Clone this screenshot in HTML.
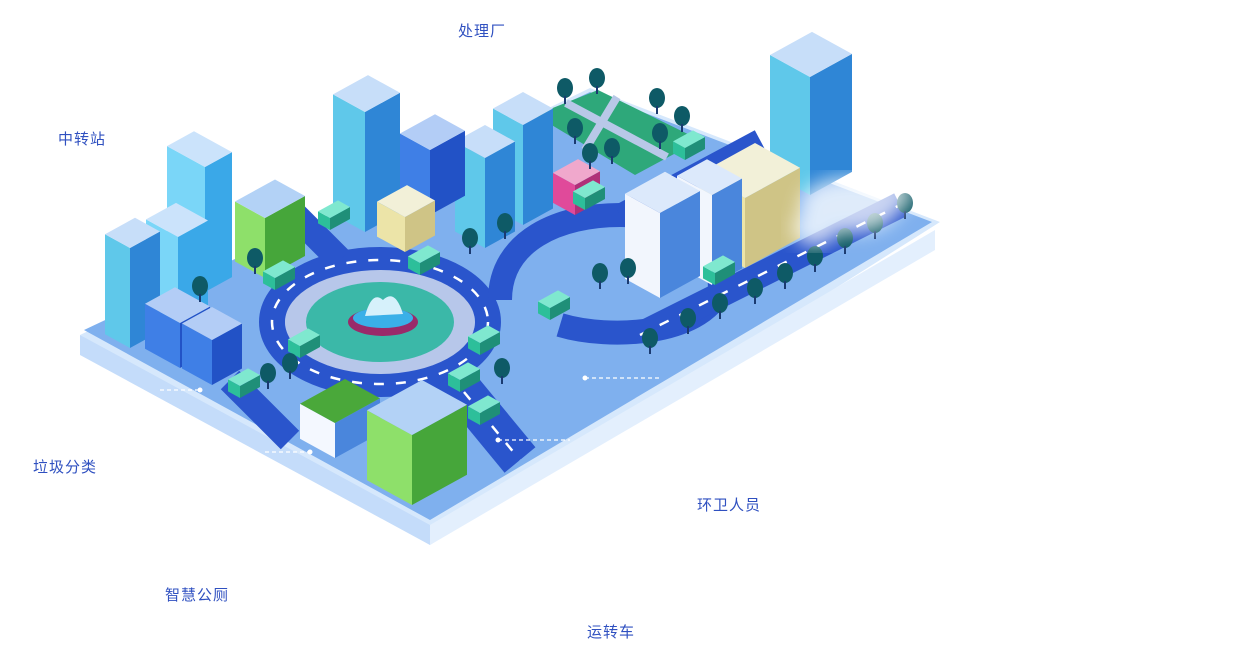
<!DOCTYPE html>
<html><head><meta charset="utf-8"><style>
html,body{margin:0;padding:0;background:#fff;width:1233px;height:654px;overflow:hidden}
.l{position:absolute;font:15px "Liberation Sans","Noto Sans CJK SC",sans-serif;color:#2f50c0;letter-spacing:1px}
svg{position:absolute;left:0;top:0}
</style></head><body>
<svg id="s" width="1233" height="654" viewBox="0 0 1233 654">
<defs><filter id="b"><feGaussianBlur stdDeviation="9"/></filter></defs>
<polygon points="80,335 590,88 940,222 430,545" fill="#d6e8fc"/>
<polygon points="80,335 430,525 430,545 80,355" fill="#c4dcfa"/>
<polygon points="430,525 935,230 935,250 430,545" fill="#e3effd"/>
<polygon points="84,330 590,92 932,222 430,520" fill="#7fb0ee"/>
<g stroke="#2a55cc" fill="none" stroke-linecap="butt">
<ellipse cx="380" cy="322" rx="108" ry="62" stroke-width="26"/>
<path d="M500,300 C500,240 560,215 620,215 C700,215 720,250 720,290 C700,335 610,340 560,325" stroke-width="24"/>
<path d="M640,335 L900,205" stroke-width="26"/>
<path d="M620,215 L760,140" stroke-width="22"/>
<path d="M450,375 L520,460" stroke-width="40"/>
<path d="M290,210 L340,260" stroke-width="26"/>
<path d="M230,380 L290,440" stroke-width="26"/>
</g>
<g stroke="#fff" stroke-width="2.5" stroke-dasharray="10 12" fill="none">
<ellipse cx="380" cy="322" rx="108" ry="62"/>
<path d="M640,335 L900,205"/>
<path d="M450,375 L520,460"/>
</g>
<ellipse cx="380" cy="322" rx="95" ry="52" fill="#b7c7ea"/>
<ellipse cx="380" cy="322" rx="74" ry="40" fill="#3bb8a8"/>
<ellipse cx="383" cy="322" rx="35" ry="14" fill="#9a2a6a"/>
<ellipse cx="383" cy="318" rx="30" ry="10" fill="#3ab0e8"/>
<path d="M365,316 Q372,290 383,300 Q395,288 403,314" fill="#d6f1fb"/>
<polygon points="535,115 598,90 700,140 635,175" fill="#2ea87a"/>
<path d="M566,103 L667,157 M617,97 L585,150" stroke="#b8c8e8" stroke-width="8"/>
<g id="bx"></g>
<g id="tr"></g>
<g filter="url(#b)" fill="#fff" opacity="0.75">
<ellipse cx="850" cy="205" rx="50" ry="28"/><ellipse cx="815" cy="228" rx="22" ry="18"/><ellipse cx="885" cy="195" rx="28" ry="16"/>
</g>
<g stroke="#fff" stroke-width="1.2" stroke-dasharray="4 3">
<line x1="585" y1="378" x2="660" y2="378"/><line x1="498" y1="440" x2="570" y2="440"/><line x1="265" y1="452" x2="310" y2="452"/><line x1="160" y1="390" x2="200" y2="390"/>
</g>
<g fill="#fff"><circle cx="585" cy="378" r="2.5"/><circle cx="498" cy="440" r="2.5"/><circle cx="310" cy="452" r="2.5"/><circle cx="200" cy="390" r="2.5"/></g>
</svg>
<div class="l" style="left:458px;top:20px">处理厂</div>
<div class="l" style="left:58px;top:128px">中转站</div>
<div class="l" style="left:33px;top:456px">垃圾分类</div>
<div class="l" style="left:697px;top:494px">环卫人员</div>
<div class="l" style="left:165px;top:584px">智慧公厕</div>
<div class="l" style="left:587px;top:621px">运转车</div>
<script>
var NS="http://www.w3.org/2000/svg";
function P(g,pts,f){var p=document.createElementNS(NS,"polygon");p.setAttribute("points",pts.map(function(a){return a.join(",")}).join(" "));p.setAttribute("fill",f);g.appendChild(p);}
function box(x,y,w,d,h,t,l,r){var g=document.getElementById("bx");var k=0.55;
var B=[x,y],L=[x-w,y-k*w],R=[x+d,y-k*d],K=[x-w+d,y-k*(w+d)];
function u(p){return [p[0],p[1]-h]}
P(g,[B,L,u(L),u(B)],l);P(g,[B,R,u(R),u(B)],r);P(g,[u(B),u(L),u(K),u(R)],t);}
var cy=["#c7def9","#5fc8ea","#2f86d6"],bl=["#b3cdf6","#3f7fe6","#2252c6"],lc=["#cbe3fb","#7ad6f8","#3aa8e8"],bg=["#f2f0d8","#ece4a8","#cfc486"],gr=["#b3d2f6","#8ee06a","#46a63a"],wh=["#dce9fb","#f2f6fd","#4a86dc"];
var list=[
[523,225,30,30,100,cy],[485,248,30,30,90,cy],[430,215,30,35,65,bl],[365,232,32,35,120,cy],[405,252,28,30,35,bg],
[575,215,22,25,30,["#f0a8cc","#e04a9a","#b03078"]],
[810,195,40,42,118,cy],[745,268,45,55,70,bg],[712,285,35,30,90,wh],[660,298,35,40,85,wh],
[205,292,38,27,125,lc],[178,322,32,30,85,lc],[130,348,25,30,100,cy],[265,278,30,40,60,gr],
[180,368,35,30,45,bl],[212,385,30,30,45,bl],
[335,458,35,45,35,["#4aa83a","#f4f8ff","#4a86dc"]],[412,505,45,55,70,gr]];
list.forEach(function(a){box(a[0],a[1],a[2],a[3],a[4],a[5][0],a[5][1],a[5][2]);});
var t=document.getElementById("tr");
var trees=[[565,100],[597,90],[657,110],[682,128],[660,145],[590,165],[612,160],[575,140],[470,250],[505,235],[600,285],[628,280],[650,350],[688,330],[720,315],[755,300],[785,285],[815,268],[845,250],[875,235],[905,215],[268,385],[290,375],[502,380],[200,298],[255,270]];
trees.forEach(function(p){var c=document.createElementNS(NS,"ellipse");c.setAttribute("cx",p[0]);c.setAttribute("cy",p[1]-12);c.setAttribute("rx",8);c.setAttribute("ry",10);c.setAttribute("fill","#0e5a66");t.appendChild(c);
var r=document.createElementNS(NS,"rect");r.setAttribute("x",p[0]-1);r.setAttribute("y",p[1]-4);r.setAttribute("width",2);r.setAttribute("height",8);r.setAttribute("fill","#1a3a70");t.appendChild(r);});
var trucks=[[330,230],[420,275],[275,290],[300,358],[480,355],[550,320],[585,210],[685,160],[715,285],[480,425],[460,392],[240,398]];
trucks.forEach(function(p){box(p[0],p[1],12,20,12,"#7fe8cf","#2dbf9a","#1f8f78");});
</script>
</body></html>
